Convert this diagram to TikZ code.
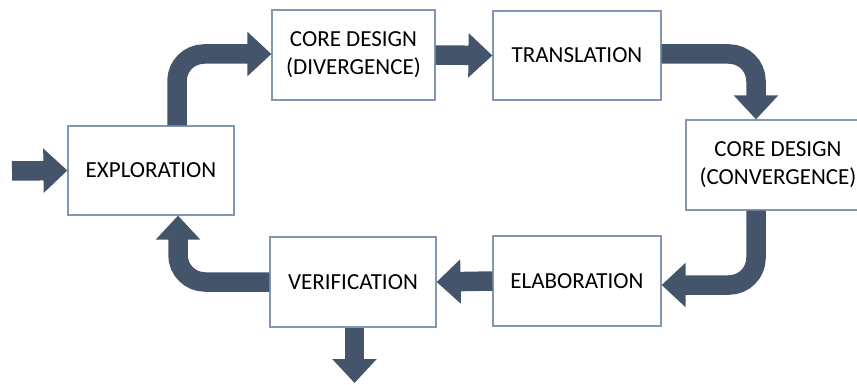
\documentclass[tikz,border=0pt]{standalone}
\usepackage{fontspec}
\setmainfont{Carlito}
\usetikzlibrary{arrows.meta}
\definecolor{flowcol}{HTML}{44546A}
\definecolor{boxline}{HTML}{8497B0}
\tikzset{
  stage/.style={draw=boxline, line width=1.2pt, fill=white,
    minimum width=166pt, minimum height=90pt, inner sep=0pt,
    align=center, font=\fontsize{23}{28}\selectfont},
  flow/.style={draw=flowcol, line width=19.5pt, rounded corners=27pt,
    -{Triangle[length=24pt,width=43pt]}},
}
\begin{document}
\begin{tikzpicture}[x=1pt,y=-1pt]
  \useasboundingbox (0,0) rectangle (857,385);
  \clip (0,0) rectangle (857,385);

  % process stages
  \node[stage, minimum height=89pt] (expl) at (151,170.5) {EXPLORATION};
  \node[stage, minimum width=163pt] (div) at (353.5,55) {CORE DESIGN\\(DIVERGENCE)};
  \node[stage, minimum width=168pt, minimum height=89pt] (trans) at (577,55.5) {TRANSLATION};
  \node[stage, minimum width=184pt] (conv) at (778,165) {CORE DESIGN\\(CONVERGENCE)};
  \node[stage, minimum width=168pt] (elab) at (577,281) {ELABORATION};
  \node[stage] (verif) at (353,282) {VERIFICATION};

  % entry and exit points
  \coordinate (in)  at (12,171);
  \coordinate (out) at (354.5,383);

  % flow between stages
  \draw[flow] (in) -- (expl.west);
  \draw[flow] ([xshift=26pt]expl.north) |- ([yshift=1pt]div.west);
  \draw[flow] (div.east) -- (trans.west);
  \draw[flow] ([yshift=1.5pt]trans.east) -| ([xshift=-22pt]conv.north);
  \draw[flow] ([xshift=-22pt]conv.south) |- ([yshift=-4pt]elab.east);
  \draw[flow] (elab.west) -- (verif.east);
  \draw[flow] (verif.west) -| ([xshift=27pt]expl.south);
  \draw[flow] (verif.south -| out) -- (out);
\end{tikzpicture}
\end{document}
